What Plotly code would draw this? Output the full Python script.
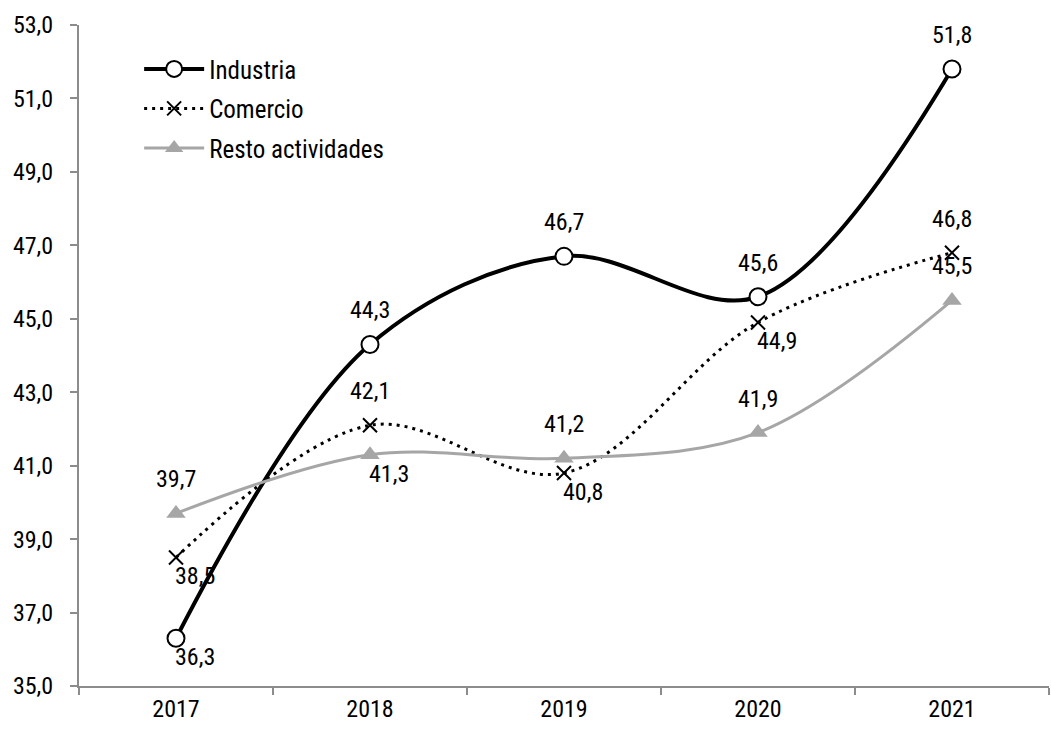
import plotly.graph_objects as go

years = ["2017", "2018", "2019", "2020", "2021"]
industria = [36.3, 44.3, 46.7, 45.6, 51.8]
comercio = [38.5, 42.1, 40.8, 44.9, 46.8]
resto = [39.7, 41.3, 41.2, 41.9, 45.5]
y_ticks = [35, 37, 39, 41, 43, 45, 47, 49, 51, 53]

FONT = "Roboto Condensed, Liberation Sans, Arial, sans-serif"
GRAY = "#a6a6a6"
AXIS = "#8c8c8c"

# label placement per series: 'a' = above, 'b' = below-right
label_pos = {
    "Industria": ["b", "a", "a", "a", "a"],
    "Comercio": ["b", "a", "b", "b", "a"],
    "Resto actividades": ["a", "b", "a", "a", "a"],
}

def fmt(v):
    return f"{v:.1f}".replace(".", ",")

fig = go.Figure()
series = [
    ("Industria", industria,
     dict(color="black", width=4, shape="spline", smoothing=1.0),
     dict(symbol="circle", size=17, color="white", line=dict(color="black", width=2))),
    ("Comercio", comercio,
     dict(color="black", width=3, dash="3px,5px", shape="spline", smoothing=1.0),
     dict(symbol="x-thin", size=14, color="black", line=dict(color="black", width=2))),
    ("Resto actividades", resto,
     dict(color=GRAY, width=3, shape="spline", smoothing=1.0),
     dict(symbol="triangle-up", size=17, color=GRAY, line=dict(color=GRAY, width=0))),
]
for name, vals, line, marker in series:
    fig.add_trace(go.Scatter(x=years, y=vals, name=name, mode="lines+markers",
                             line=line, marker=marker, legendgroup=name))
    for i, (v, p) in enumerate(zip(vals, label_pos[name])):
        if p == "a":
            xs, ys = 0, 34
        else:
            xs, ys = 19, -19
        fig.add_annotation(x=i, y=v, xref="x", yref="y", text=fmt(v), showarrow=False,
                           xshift=xs, yshift=ys,
                           font=dict(family=FONT, size=24, color="black"))

fig.update_layout(
    width=1051, height=731,
    margin=dict(l=79, r=2, t=25, b=45),
    paper_bgcolor="white", plot_bgcolor="white",
    font=dict(family=FONT, size=24, color="black"),
    showlegend=True,
    legend=dict(x=0.062, y=0.968, xanchor="left", yanchor="top",
                bgcolor="rgba(0,0,0,0)", font=dict(family=FONT, size=25),
                tracegroupgap=4, itemwidth=60),
)
fig.update_xaxes(
    type="category", range=[-0.5, 4.5], showgrid=False,
    showline=True, linecolor=AXIS, linewidth=2,
    ticks="outside", ticklen=7, tickwidth=2, tickcolor=AXIS,
    tickson="boundaries",
    tickfont=dict(family=FONT, size=24, color="black"),
)
fig.update_yaxes(
    range=[35, 53], tickvals=y_ticks, ticktext=[fmt(v) for v in y_ticks],
    showgrid=False, zeroline=False,
    showline=True, linecolor=AXIS, linewidth=2,
    ticks="outside", ticklen=7, tickwidth=2, tickcolor=AXIS,
    ticklabelstandoff=12,
    tickfont=dict(family=FONT, size=24, color="black"),
)

fig.write_html("out.html")
